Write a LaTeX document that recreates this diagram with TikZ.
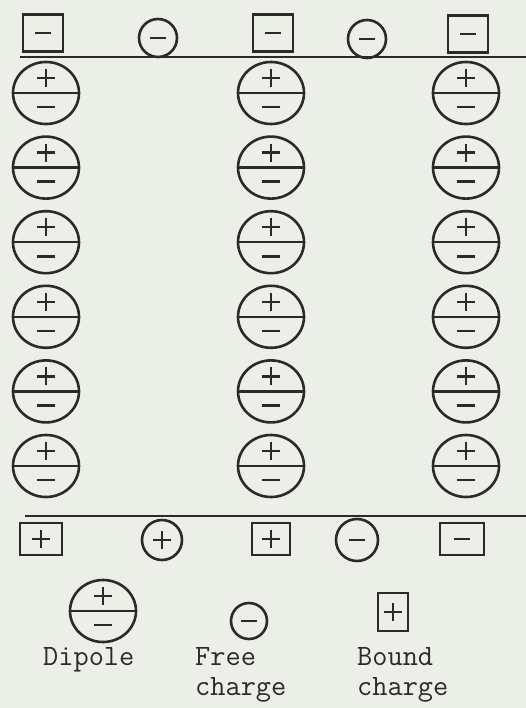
\documentclass[tikz,border=0pt]{standalone}
\usepackage{fontspec}
\usetikzlibrary{positioning,shapes.geometric}
\definecolor{paper}{HTML}{ECEEE8}
\definecolor{inkgray}{HTML}{2A2A2A}
\tikzset{
    pen/.style={draw=inkgray, line width=2.6pt},
    plussign/.style={path picture={\draw[pen] ([xshift=-9pt]path picture bounding box.center) -- ++(18pt,0pt) ([yshift=-9pt]path picture bounding box.center) -- ++(0pt,18pt);}},
    minussign/.style={path picture={\draw[pen] ([xshift=-8pt]path picture bounding box.center) -- ++(16pt,0pt);}},
    dipole/.style={ellipse, pen, minimum width=66pt, minimum height=62pt, inner sep=0pt,
        path picture={
            \draw[pen] (path picture bounding box.west) -- (path picture bounding box.east);
            \draw[pen] ([shift={(-9pt,15pt)}]path picture bounding box.center) -- ++(18pt,0pt)
                ([shift={(0pt,6pt)}]path picture bounding box.center) -- ++(0pt,18pt)
                ([shift={(-9pt,-14pt)}]path picture bounding box.center) -- ++(18pt,0pt);
        }},
    free/.style={circle, pen, minimum size=38pt, inner sep=0pt},
    bound/.style={rectangle, pen, minimum width=40pt, minimum height=37pt, inner sep=0pt},
    legend/.style={font=\fontsize{29.5}{34}\selectfont\ttfamily, text=inkgray, inner sep=0pt, anchor=base west}
}

\begin{document}
\begin{tikzpicture}[x=1pt, y=1pt]

\fill[paper] (0,0) rectangle (526,-708);
\useasboundingbox (0,0) rectangle (526,-708);

% Top plate
\node[bound, minussign] at (43,-33) (tb1) {};
\node[free, minussign] at (158,-38) (tf1) {};
\node[bound, minussign] at (273,-33) (tb2) {};
\node[free, minussign] at (367,-39) (tf2) {};
\node[bound, minussign] at (468,-34) (tb3) {};
\coordinate (topL) at (20,-57);
\coordinate (topR) at (526,-57);
\draw[pen] (topL) -- (topR);

% Dipoles, left column
\node[dipole] at (46,-93) (d11) {};
\node[dipole, below=10pt of d11] (d12) {};
\node[dipole, below=10pt of d12] (d13) {};
\node[dipole, below=10pt of d13] (d14) {};
\node[dipole, below=10pt of d14] (d15) {};
\node[dipole, below=10pt of d15] (d16) {};

% Dipoles, middle column
\node[dipole] at (271,-93) (d21) {};
\node[dipole, below=10pt of d21] (d22) {};
\node[dipole, below=10pt of d22] (d23) {};
\node[dipole, below=10pt of d23] (d24) {};
\node[dipole, below=10pt of d24] (d25) {};
\node[dipole, below=10pt of d25] (d26) {};

% Dipoles, right column
\node[dipole] at (466,-93) (d31) {};
\node[dipole, below=10pt of d31] (d32) {};
\node[dipole, below=10pt of d32] (d33) {};
\node[dipole, below=10pt of d33] (d34) {};
\node[dipole, below=10pt of d34] (d35) {};
\node[dipole, below=10pt of d35] (d36) {};

% Bottom plate
\coordinate (botL) at (25,-516);
\coordinate (botR) at (526,-516);
\draw[pen] (botL) -- (botR);
\node[bound, plussign, minimum width=42pt, minimum height=32pt] at (41,-539) (bb1) {};
\node[free, plussign, minimum size=40pt] at (162,-540) (bf1) {};
\node[bound, plussign, minimum width=38pt, minimum height=32pt] at (271,-539) (bb2) {};
\node[free, minussign, minimum size=42pt] at (357,-540) (bf2) {};
\node[bound, minussign, minimum width=44pt, minimum height=32pt] at (462,-539) (bb3) {};

% Legend
\node[dipole] at (103,-611) (legdip) {};
\node[free, minussign, minimum size=36pt] at (249,-621) (legfree) {};
\node[bound, plussign, minimum width=30pt, minimum height=38pt] at (393,-612) (legbound) {};
\node[legend] at (43,-665) (dipname) {Dipole};
\node[legend] at (195,-665) (freename) {Free};
\node[legend] at (195,-695) (freename2) {charge};
\node[legend] at (357,-665) (boundname) {Bound};
\node[legend] at (357,-695) (boundname2) {charge};

\end{tikzpicture}
\end{document}
